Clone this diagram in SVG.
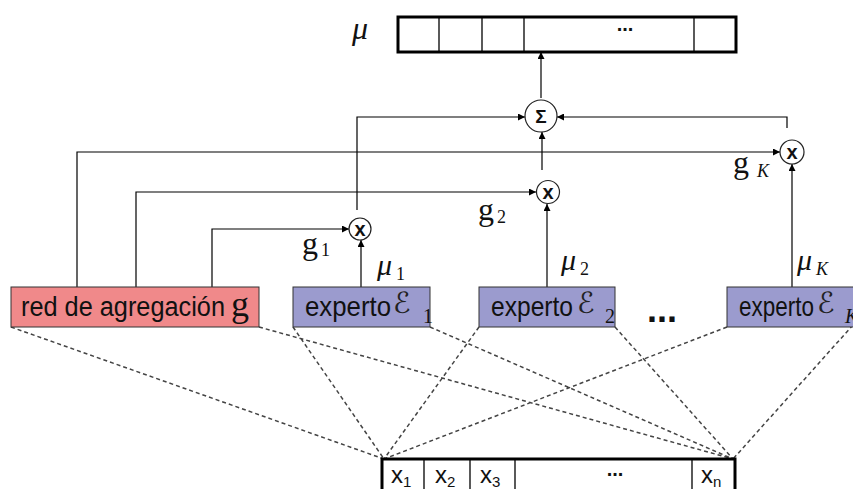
<svg xmlns="http://www.w3.org/2000/svg" width="853" height="489" viewBox="0 0 853 489">
<defs>
<marker id="ah" viewBox="0 0 10 10" refX="10" refY="5" markerWidth="8" markerHeight="7" markerUnits="userSpaceOnUse" orient="auto"><path d="M0,0 L10,5 L0,10 z" fill="#000"/></marker>
<style>
.sans{font-family:"Liberation Sans",Arial,sans-serif;fill:#111}
.ser{font-family:"Liberation Serif","Times New Roman",serif;fill:#111}
.it{font-style:italic}
.scr{font-family:"DejaVu Serif","DejaVu Sans",serif;font-style:italic;fill:#222}
.conn{fill:none;stroke:#000;stroke-width:1.2}
.arr{marker-end:url(#ah)}
.dash{fill:none;stroke:#444;stroke-width:1.5;stroke-dasharray:4 3}
.red{fill:#F0898A;stroke:#333;stroke-width:1}
.exp{fill:#9B9BCE;stroke:#333;stroke-width:1}
.op{fill:#fff;stroke:#222;stroke-width:1.2}
.bar{fill:#fff;stroke:#000;stroke-width:3}
.div{stroke:#000;stroke-width:1.3}
</style>
</defs>
<rect width="853" height="489" fill="#fff"/>

<g id="connectors">
<path class="dash" d="M11,327 L384,459 M259,327 L733,459 M293,327 L384,459 M430,327 L733,459 M479,327 L384,459 M615,327 L733,459 M727,327 L384,459 M853,325 L733,459"/>
<path class="conn arr" d="M77,287 V152 H780"/>
<path class="conn arr" d="M136,287 V192 H536"/>
<path class="conn arr" d="M212,287 V229 H349"/>
<path class="conn arr" d="M361,287 V240"/>
<path class="conn arr" d="M547,287 V204"/>
<path class="conn arr" d="M792,287 V164"/>
<path class="conn arr" d="M357,210 V117 H525"/>
<path class="conn arr" d="M542,170 V132"/>
<path class="conn arr" d="M787,128 V117 H557"/>
<path class="conn arr" d="M541,98 V52"/>
</g>

<g id="output-bar">
<rect class="bar" x="398" y="17" width="338" height="35"/>
<line class="div" x1="439" y1="17" x2="439" y2="52"/>
<line class="div" x1="482" y1="17" x2="482" y2="52"/>
<line class="div" x1="524" y1="17" x2="524" y2="52"/>
<line class="div" x1="694" y1="17" x2="694" y2="52"/>
<text class="sans" x="625" y="31" font-size="20" font-weight="bold" text-anchor="middle">...</text>
<text class="ser it" x="352" y="39" font-size="32">μ</text>
</g>

<g id="sum">
<circle class="op" cx="541" cy="116" r="16"/>
<text class="sans" x="541" y="123" font-size="19" font-weight="bold" text-anchor="middle">Σ</text>
</g>
<g id="mult1">
<circle class="op" cx="360" cy="229" r="11"/>
<text class="sans" x="360" y="236" font-size="20" font-weight="bold" text-anchor="middle">x</text>
</g>
<g id="mult2">
<circle class="op" cx="548" cy="192" r="11.5"/>
<text class="sans" x="548" y="199" font-size="20" font-weight="bold" text-anchor="middle">x</text>
</g>
<g id="multK">
<circle class="op" cx="792" cy="152" r="12"/>
<text class="sans" x="792" y="159" font-size="20" font-weight="bold" text-anchor="middle">x</text>
</g>

<g id="labels">
<text class="ser" x="302" y="254" font-size="32">g</text><text class="ser" x="321" y="256" font-size="18">1</text>
<text class="ser" x="478" y="220" font-size="32">g</text><text class="ser" x="497" y="223" font-size="18">2</text>
<text class="ser" x="733" y="173" font-size="32">g</text><text class="ser it" x="757" y="177" font-size="18">K</text>
<text class="ser it" x="377" y="275" font-size="30">μ</text><text class="ser" x="396" y="280" font-size="18">1</text>
<text class="ser it" x="561" y="270" font-size="30">μ</text><text class="ser" x="580" y="275" font-size="18">2</text>
<text class="ser it" x="797" y="270" font-size="30">μ</text><text class="ser it" x="816" y="275" font-size="18">K</text>
</g>

<g id="gating">
<rect class="red" x="11" y="287" width="248" height="40"/>
<text class="sans" x="21" y="316" font-size="27" textLength="204" lengthAdjust="spacingAndGlyphs">red de agregación</text>
<text class="ser" x="231" y="316" font-size="36">g</text>
</g>

<g id="expert1">
<rect class="exp" x="293" y="287" width="137" height="40"/>
<text class="sans" x="305" y="316" font-size="28" textLength="86" lengthAdjust="spacingAndGlyphs">experto</text>
<text class="scr" x="393" y="313" font-size="29">ℰ</text>
<text class="ser" x="423" y="323" font-size="20">1</text>
</g>

<g id="expert2">
<rect class="exp" x="479" y="287" width="136" height="40"/>
<text class="sans" x="491" y="316" font-size="28" textLength="82" lengthAdjust="spacingAndGlyphs">experto</text>
<text class="scr" x="577" y="313" font-size="29">ℰ</text>
<text class="ser" x="605" y="323" font-size="20">2</text>
</g>

<text class="sans" x="662" y="322" font-size="36" font-weight="bold" text-anchor="middle">...</text>

<g id="expertK">
<rect class="exp" x="727" y="287" width="140" height="40"/>
<text class="sans" x="739" y="316" font-size="28" textLength="75" lengthAdjust="spacingAndGlyphs">experto</text>
<text class="scr" x="817" y="313" font-size="29">ℰ</text>
<text class="ser it" x="845" y="323" font-size="20">K</text>
</g>

<g id="input-bar">
<rect class="bar" x="382" y="459" width="353" height="45"/>
<line class="div" x1="424" y1="459" x2="424" y2="489"/>
<line class="div" x1="470" y1="459" x2="470" y2="489"/>
<line class="div" x1="515" y1="459" x2="515" y2="489"/>
<line class="div" x1="692" y1="459" x2="692" y2="489"/>
<text class="sans" x="391" y="483" font-size="24">x<tspan font-size="15" dy="4">1</tspan></text>
<text class="sans" x="435" y="483" font-size="24">x<tspan font-size="15" dy="4">2</tspan></text>
<text class="sans" x="480" y="483" font-size="24">x<tspan font-size="15" dy="4">3</tspan></text>
<text class="sans" x="615" y="476" font-size="20" font-weight="bold" text-anchor="middle">...</text>
<text class="sans" x="701" y="483" font-size="24">x<tspan font-size="15" dy="4">n</tspan></text>
</g>
</svg>
